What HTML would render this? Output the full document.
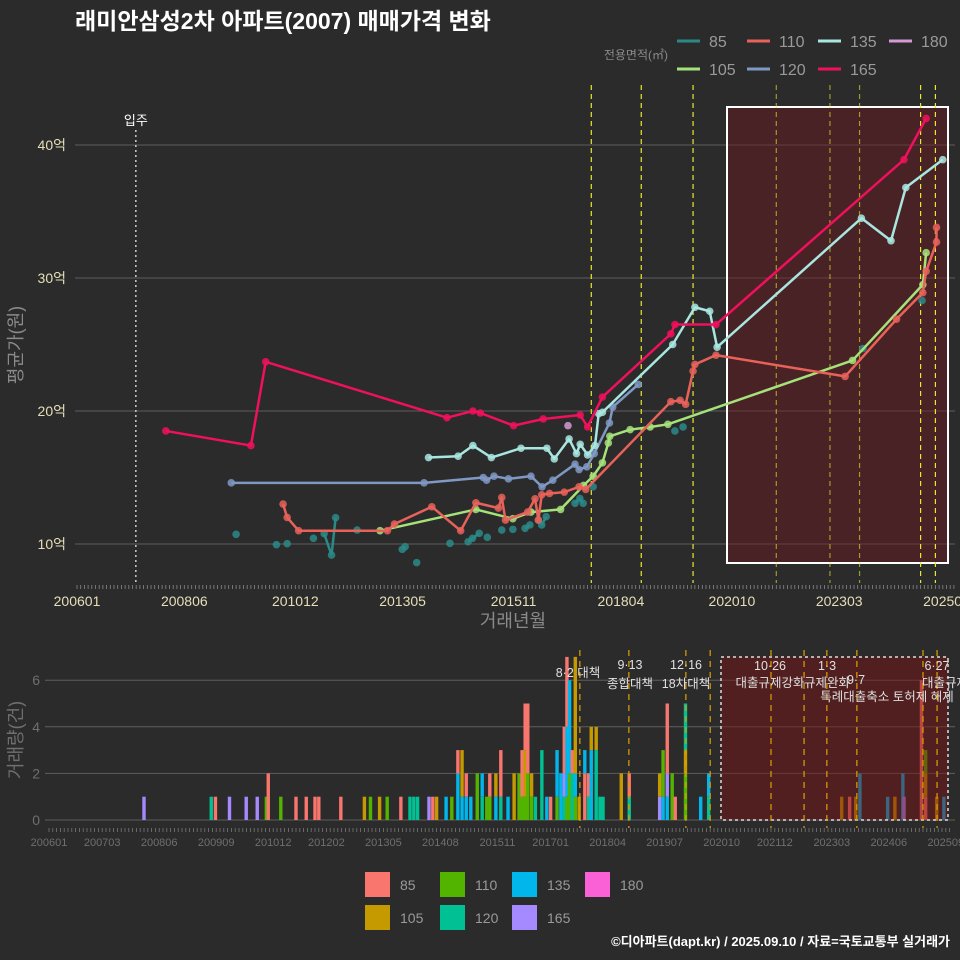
<!DOCTYPE html>
<html><head><meta charset="utf-8"><style>
html,body{margin:0;padding:0;background:#2b2b2b;}
svg{display:block;font-family:"Liberation Sans","Noto Sans CJK KR",sans-serif;}
</style></head><body>
<svg id="c" width="960" height="960" viewBox="0 0 960 960" xmlns="http://www.w3.org/2000/svg">
<rect width="960" height="960" fill="#2b2b2b"/>
<text x="75" y="29" fill="#ffffff" font-size="23" font-weight="bold">래미안삼성2차 아파트(2007) 매매가격 변화</text>
<text x="950" y="946" fill="#ffffff" font-size="13" font-weight="bold" text-anchor="end">©디아파트(dapt.kr) / 2025.09.10 / 자료=국토교통부 실거래가</text>
<text transform="translate(22,345) rotate(-90)" fill="#8a8a8a" font-size="18" text-anchor="middle">평균가(원)</text>
<text x="513" y="627" fill="#8a8a8a" font-size="18" text-anchor="middle">거래년월</text>
<text transform="translate(22,740) rotate(-90)" fill="#6f6f6f" font-size="18" text-anchor="middle">거래량(건)</text>
<text x="668" y="59" fill="#8a8a8a" font-size="12" text-anchor="end">전용면적(㎡)</text>
<g id="g"></g>
</svg>
<script>
// ---- data (months since 2006-01) ----
const sizes = ["85","105","110","120","135","165","180"];
const lineColors = {"85":"#2a8a88","105":"#a6e27a","110":"#e8625a","120":"#7f98c4","135":"#a9e6e0","165":"#f0105c","180":"#d49ad4"};
const barColors = {"85":"#f8766d","105":"#c49a00","110":"#53b400","120":"#00c094","135":"#00b6eb","165":"#a58aff","180":"#fb61d7"};

const m165 = [24,47,51,100,107,109,118,126,136,138,142,160.5,161.6,172.7,223.5,229.5];
const v165 = [18.5,17.4,23.7,19.5,20.0,19.85,18.9,19.4,19.7,18.8,21.05,25.8,26.5,26.5,38.9,42.0];
const m135 = [95,103,107,112,120,127,129,133,135,136,138,140,141,142,161,167,171,173,212,220,224,234];
const v135 = [16.5,16.6,17.4,16.5,17.2,17.2,16.4,17.9,16.8,17.5,16.7,17.4,19.8,19.9,25.0,27.8,27.5,24.8,34.5,32.8,36.8,38.9];
const m120 = [41.7,93.8,109.8,110.7,112.7,116.6,122.7,125.7,128.6,134.6,135.7,137.8,139.8,143.9,144.8,151.7];
const v120 = [14.6,14.6,15.0,14.8,15.1,14.9,15.1,14.3,14.8,16.0,15.6,15.8,16.8,19.1,20.3,22.0];
const m110 = [55.7,56.8,59.9,83.9,85.8,95.9,103.7,107.8,113.9,114.8,115.8,121.8,123.8,124.7,125.6,127.7,131.7,135.7,137.5,160.5,163,164.5,166.5,167,172.7,207.6,221.5,228.6,229.5,232.3,232.3];
const v110 = [13.0,12.0,11.0,11.0,11.5,12.8,11.0,13.1,12.7,13.5,11.8,12.4,13.4,11.8,13.7,13.8,13.9,14.3,14.1,20.7,20.8,20.5,23.0,23.5,24.2,22.6,26.9,28.9,30.5,32.7,33.8];
const m105 = [81.9,107.8,117.8,122.7,130.7,136.9,139.5,142,143.6,144,149.5,154.9,159.7,209.6,228.6,229.5];
const v105 = [11.0,12.6,11.9,12.4,12.6,14.4,15.1,16.1,17.6,18.1,18.6,18.8,19.0,23.8,29.5,31.9];
const m85 = [43,53.9,56.8,63.9,66.8,68.8,69.9,75.7,87.9,88.7,91.8,100.8,105.7,106.9,108.7,110.9,114.8,117.8,121.1,122.4,124.7,125.6,126.8,134.6,135.9,136.8,139.5,161.6,163.8,212.4,228.4];
const v85 = [10.73,9.95,10.02,10.43,10.78,9.17,11.98,11.05,9.6,9.8,8.6,10.05,10.17,10.43,10.8,10.5,11.05,11.1,11.18,11.43,11.8,11.43,12.05,13.06,13.43,13.06,14.3,18.5,18.8,24.7,28.3];
const m180 = [132.7];
const v180 = [18.9];

const topTickMonths = [0,29,59,88,118,147,177,206,235];
const topTickLabels = ["200601","200806","201012","201305","201511","201804","202010","202303","202508"];
const yTicks = [10,20,30,40];
const yTickLabels = ["10억","20억","30억","40억"];
const topEvents = [139,152.5,166.5,189,203.5,211.5,228,232];
const moveIn = 15.9;

// bars: month, size, count
const barMonths = [25,42.7,43.8,47.5,51.9,54.8,57.2,57.7,61,65,67.7,70,71,76.8,83,84.6,87,89,92.6,95,96,97,100,101,102,104.5,106,107.6,107.6,108.7,108.7,109.8,109.8,111,112.7,114,114,115.2,116,116,117.6,117.6,118.9,118.9,120.8,122.4,123.7,124.5,124.5,125.3,125.3,125.3,126,126,127,127,128,129.7,131,132,133.7,133.7,134.7,135.6,135.6,135.6,136.3,136.3,136.3,137,137,137.7,137.7,138.5,138.5,138.5,139.5,141,141,142,142,142.7,142.7,144,144,145,145.8,150.6,152.7,152.7,160.7,160.7,161.6,161.6,162.7,162.7,162.7,164,164.8,167.5,167.5,167.5,171.5,173.6,173.6,208.6,210.7,212.3,213.4,220.7,222.6,224.7,225,229.6,229.6,230.7,230.7,230.7,233.6,235.5];
const barSizes = ["165","120","85","165","165","165","110","85","110","85","85","85","85","85","105","110","105","110","85","120","120","120","165","85","105","135","110","135","85","135","105","135","85","135","110","120","135","110","110","85","135","105","120","85","135","105","110","110","85","110","105","85","110","85","110","105","120","120","135","85","110","135","135","120","165","85","110","135","85","110","135","120","85","110","135","105","105","85","135","120","85","135","105","120","105","120","120","105","120","85","165","105","135","110","135","165","85","110","85","110","105","120","135","120","135","105","85","105","135","135","105","135","165","85","85","85","105","110","105","135"];
const barCounts = [1,1,1,1,1,1,1,2,1,1,1,1,1,1,1,1,1,1,1,1,1,1,1,1,1,1,1,2,1,1,2,1,1,1,2,1,1,1,1,1,1,1,1,2,1,2,2,1,2,1,2,2,2,3,1,1,1,3,1,1,1,2,2,1,1,2,1,3,3,2,4,2,1,1,1,5,1,2,1,1,1,3,1,3,1,1,1,2,1,1,1,1,1,2,1,1,3,2,1,2,1,2,1,1,1,1,1,1,2,1,1,2,1,3,3,1,1,1,1,1];
const botTickMonths = [0,14,29,44,59,73,88,103,118,132,147,162,177,191,206,221,236];
const botTickLabels = ["200601","200703","200806","200909","201012","201202","201305","201408","201511","201701","201804","201907","202010","202112","202303","202406","202509"];
const volTicks = [0,2,4,6];
const botEvents = [139.7,152.6,167.6,174,190,198.7,204.7,212.6,230,233.7];

// ---- scales ----
const x = m => 77 + m*3.70;
const y = v => 544 - (v-10)*13.3;
const xb = m => 49 + m*3.80;
const yb = c => 820 - c*23.3;

const NS="http://www.w3.org/2000/svg";
const g=document.getElementById('g');
function mk(tag,attrs,parent){const e=document.createElementNS(NS,tag);for(const k in attrs)e.setAttribute(k,attrs[k]);(parent||g).appendChild(e);return e;}

// top grid
yTicks.forEach((t,i)=>{
  const l=mk('line',{x1:75,x2:955,y1:y(t),y2:y(t),stroke:'#5e5e5e','stroke-width':1});
  
  
  const tx=mk('text',{x:66,y:y(t)+5,fill:'#e6dfb8','font-size':14,'text-anchor':'end'});
  tx.textContent=yTickLabels[i];
  
  
});
// shaded box top
const box=mk('rect',{x:727,y:107,width:221,height:456,fill:'rgba(110,25,30,0.45)',stroke:'#ffffff','stroke-width':2});


// minor ticks top
for(let m=0;m<=237;m++){const t=mk('line',{x1:x(m),x2:x(m),y1:585,y2:589,stroke:'#888','stroke-width':0.8});}
topTickMonths.forEach((m,i)=>{
  const tx=mk('text',{x:x(m),y:606,fill:'#e6dfb8','font-size':14,'text-anchor':'middle'});
  tx.textContent=topTickLabels[i];
  
  
});
// move-in line
const mi=mk('line',{x1:x(moveIn),x2:x(moveIn),y1:130,y2:585,stroke:'#cccccc','stroke-width':1.5,'stroke-dasharray':'2,3'});


const mit=mk('text',{x:x(moveIn),y:125,fill:'#ffffff','font-size':13,'text-anchor':'middle'});
mit.textContent='입주';


// events top
topEvents.forEach(m=>{
  const l=mk('line',{x1:x(m),x2:x(m),y1:85,y2:583,stroke:'#e8e830','stroke-width':1.2,'stroke-dasharray':'5,4','stroke-opacity':m>175&&m<225?0.6:1});
  
  
});
// series
function series(name,ms,vs,mode){
  const col=lineColors[name];
  if(mode==='line'){
    const pts=ms.map((m,i)=>x(m)+','+y(vs[i])).join(' ');
    const pl=mk('polyline',{points:pts,fill:'none',stroke:col,'stroke-width':2.5,'stroke-linejoin':'round'});
    
    
  } else if(mode==='gap'){
    for(let i=1;i<ms.length;i++){ if(ms[i]-ms[i-1]<=2.2){
      const s=mk('line',{x1:x(ms[i-1]),y1:y(vs[i-1]),x2:x(ms[i]),y2:y(vs[i]),stroke:col,'stroke-width':2.5});
      
      
    }}
  }
  ms.forEach((m,i)=>{
    const c=mk('circle',{cx:x(m),cy:y(vs[i]),r:3.8,fill:col,'fill-opacity':0.85});
    
    
  });
}
series('85',m85,v85,'gap');
series('105',m105,v105,'line');
series('110',m110,v110,'line');
series('120',m120,v120,'line');
series('135',m135,v135,'line');
series('165',m165,v165,'line');
series('180',m180,v180,'none');

// top legend
const legPos={"85":[677,41],"110":[747,41],"135":[818,41],"180":[889,41],"105":[677,69],"120":[747,69],"165":[818,69]};
sizes.forEach(s=>{
  const [lx,ly]=legPos[s];
  const l=mk('line',{x1:lx,x2:lx+23,y1:ly,y2:ly,stroke:lineColors[s],'stroke-width':3});
  
  
  const t=mk('text',{x:lx+32,y:ly+6,fill:'#9a9a9a','font-size':16});
  t.textContent=s;
  
  
});

// ---- bottom chart ----
volTicks.forEach(t=>{
  const l=mk('line',{x1:45,x2:955,y1:yb(t),y2:yb(t),stroke:'#5e5e5e','stroke-width':1});
  
  
  const tx=mk('text',{x:40,y:yb(t)+5,fill:'#6f6f6f','font-size':14,'text-anchor':'end'});
  tx.textContent=t;
  
  
});
const stackTop={};
barMonths.forEach((m,i)=>{
  const key=m.toFixed(1);
  const base=stackTop[key]||0;
  const c=barCounts[i];
  const r=mk('rect',{x:xb(m)-1.7,y:yb(base+c),width:3.4,height:c*23.3,fill:barColors[barSizes[i]]});
  
  
  stackTop[key]=base+c;
});
const box2=mk('rect',{x:721,y:657,width:227,height:163,fill:'rgba(120,20,20,0.5)',stroke:'#dddddd','stroke-width':1.5,'stroke-dasharray':'3,3'});


botEvents.forEach(m=>{
  const l=mk('line',{x1:xb(m),x2:xb(m),y1:650,y2:828,stroke:'#e0a000','stroke-width':1.2,'stroke-dasharray':'6,5'});
  
  
});
for(let m=0;m<=237;m++){const t=mk('line',{x1:xb(m),x2:xb(m),y1:828,y2:832,stroke:'#777','stroke-width':0.8});}
botTickMonths.forEach((m,i)=>{
  const tx=mk('text',{x:xb(m),y:846,fill:'#6f6f6f','font-size':11,'text-anchor':'middle'});
  tx.textContent=botTickLabels[i];
  
  
});
const notes=[["8·2 대책",578,677],["9·13",630,669],["종합대책",630,688],["12·16",686,669],["18차대책",686,688],["10·26",770,670],["대출규제강화",770,687],["1·3",827,670],["규제완화",827,687],["9·7",856,684],["특례대출축소 토허제 해제",887,701],["6·27",937,670],["대출규제",945,687]];
notes.forEach(n=>{
  const t=mk('text',{x:n[1],y:n[2],fill:'#e0e0e0','font-size':12.5,'text-anchor':'middle'});
  t.textContent=n[0];
  
  
});
// bottom legend
const bl={"85":[365,872],"110":[440,872],"135":[512,872],"180":[585,872],"105":[365,905],"120":[440,905],"165":[512,905]};
sizes.forEach(s=>{
  const [lx,ly]=bl[s];
  const r=mk('rect',{x:lx,y:ly,width:25,height:25,fill:barColors[s]});
  
  
  const t=mk('text',{x:lx+35,y:ly+18,fill:'#9a9a9a','font-size':14});
  t.textContent=s;
  
  
});
</script>
</body></html>
